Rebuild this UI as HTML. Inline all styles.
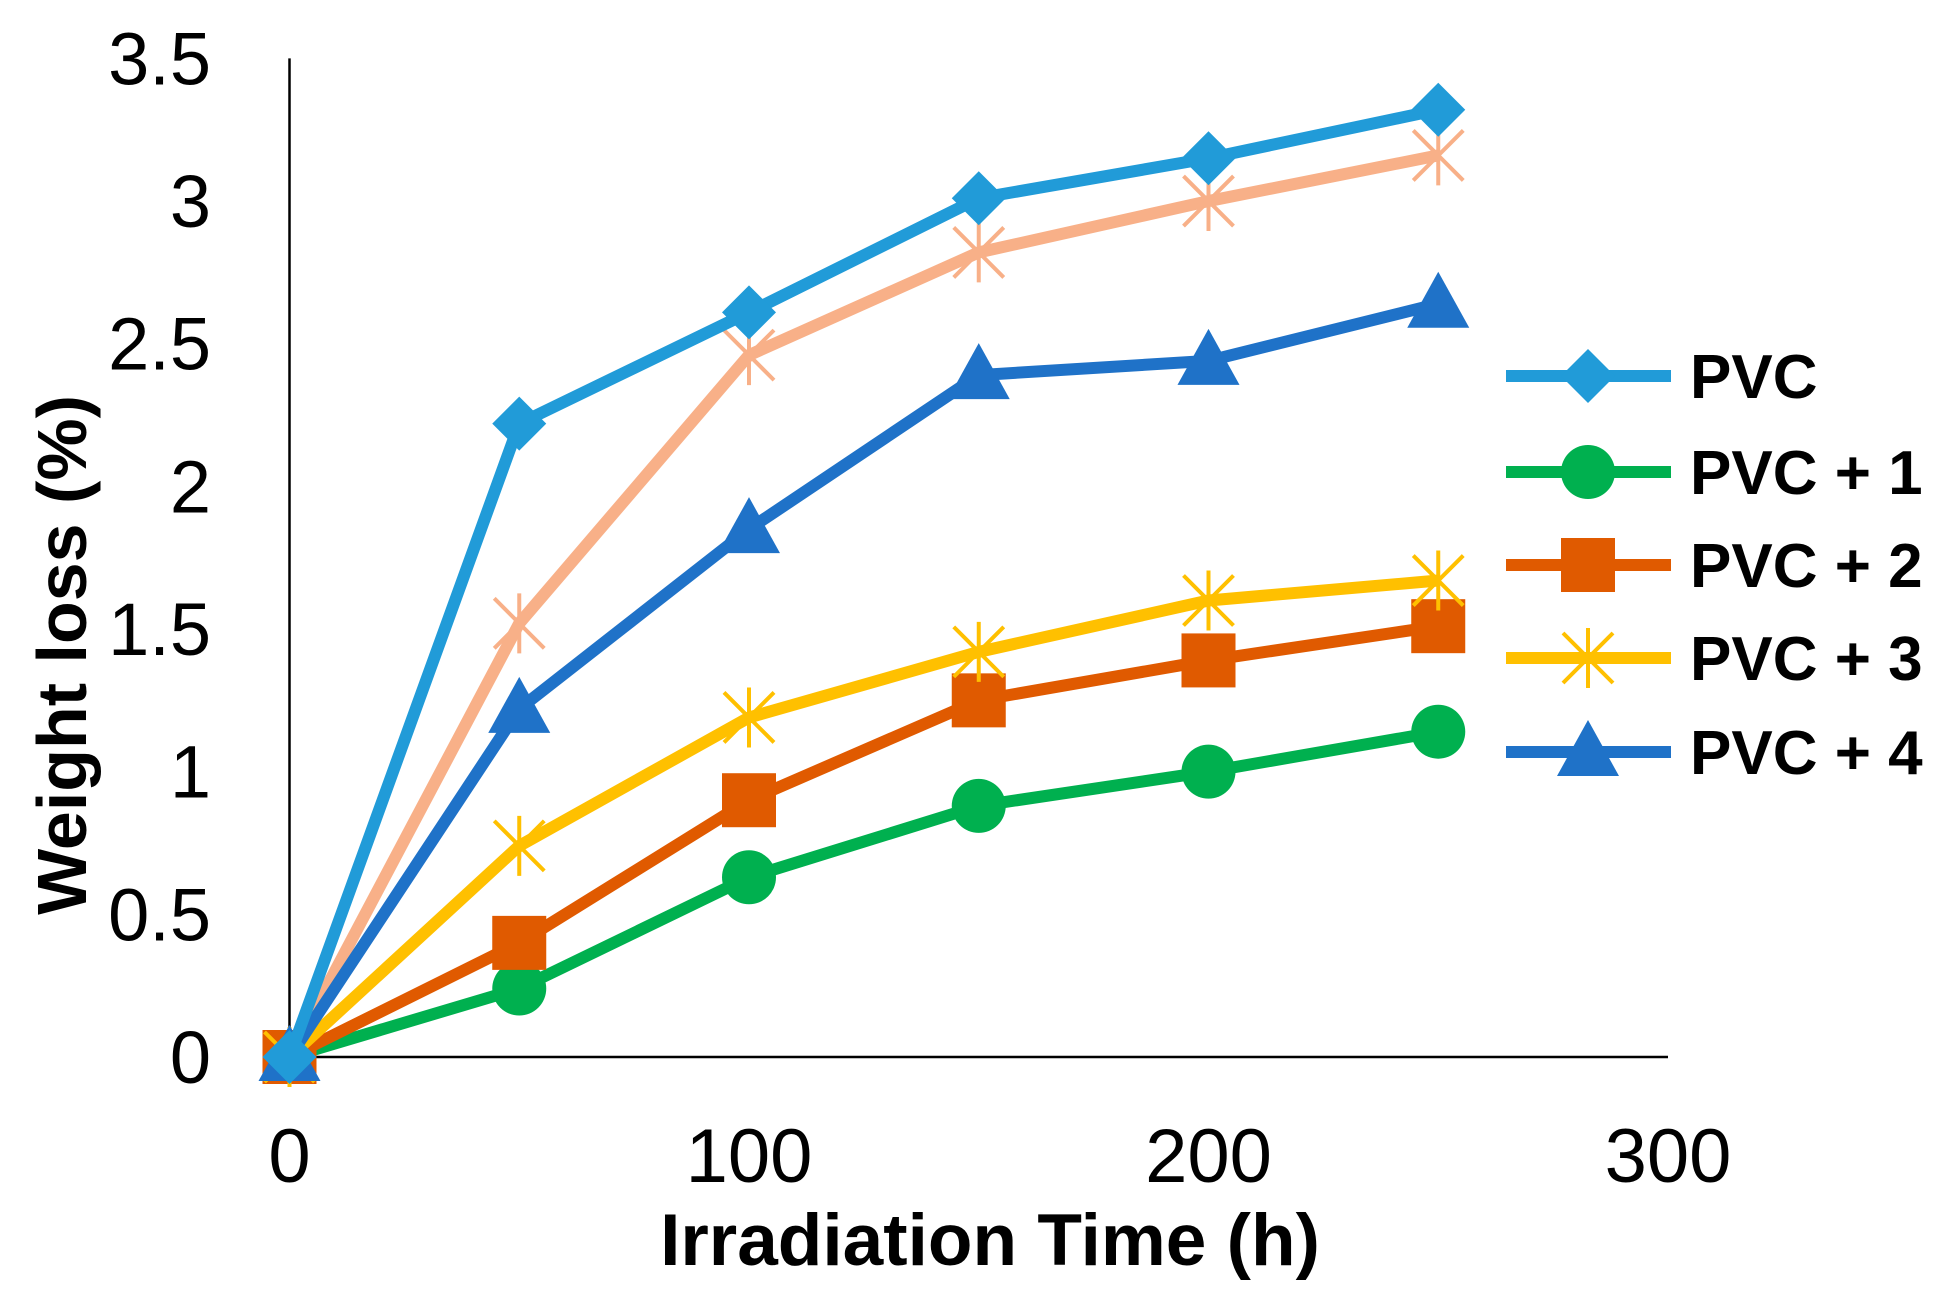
<!DOCTYPE html>
<html><head><meta charset="utf-8"><style>
html,body{margin:0;padding:0;background:#fff;}
svg{display:block;font-family:"Liberation Sans",sans-serif;}
</style></head><body>
<svg id="chart" width="1948" height="1300" viewBox="0 0 1948 1300" xmlns="http://www.w3.org/2000/svg"></svg>
<script>
const xValues = [0, 50, 100, 150, 200, 250];
const seriesNames = ["PVC", "PVC + 1", "PVC + 2", "PVC + 3", "PVC + 4", "unlabeled"];
const pvcValues = [0, 2.22, 2.61, 3.01, 3.15, 3.32];
const pvc1Values = [0, 0.24, 0.63, 0.88, 1.0, 1.14];
const pvc2Values = [0, 0.40, 0.90, 1.25, 1.39, 1.51];
const pvc3Values = [0, 0.74, 1.19, 1.42, 1.60, 1.67];
const pvc4Values = [0, 1.22, 1.85, 2.39, 2.44, 2.64];
const extraValues = [0, 1.52, 2.46, 2.82, 3.00, 3.16];
const yTicks = ["0", "0.5", "1", "1.5", "2", "2.5", "3", "3.5"];
const xTicks = ["0", "100", "200", "300"];

const NS = "http://www.w3.org/2000/svg";
const svg = document.getElementById("chart");
const X0 = 289.5, X1 = 1668, Y0 = 1057, Y1 = 58.4;
const xs = v => X0 + (v / 300) * (X1 - X0);
const ys = v => Y0 - (v / 3.5) * (Y0 - Y1);
function mk(tag, attrs, parent) {
  const e = document.createElementNS(NS, tag);
  for (const k in attrs) e.setAttribute(k, attrs[k]);
  (parent || svg).appendChild(e);
  return e;
}
let a = mk("line", {x1: X0, y1: Y1, x2: X0, y2: Y0, stroke: "#000", "stroke-width": 2.5});


a = mk("line", {x1: X0, y1: Y0, x2: X1, y2: Y0, stroke: "#000", "stroke-width": 2.5});


yTicks.forEach((t) => {
  const el = mk("text", {x: 211, y: ys(parseFloat(t)) + 26, "text-anchor": "end", "font-size": 74, fill: "#000"});
  el.textContent = t;
  
  
});
xTicks.forEach((t) => {
  const el = mk("text", {x: xs(parseFloat(t)), y: 1182, "text-anchor": "middle", "font-size": 76, fill: "#000"});
  el.textContent = t;
  
  
});
let t = mk("text", {x: 990, y: 1265, "text-anchor": "middle", "font-size": 73, "font-weight": "bold", fill: "#000"});
t.textContent = "Irradiation Time (h)";


t = mk("text", {x: 0, y: 0, "text-anchor": "middle", "font-size": 70, "font-weight": "bold", fill: "#000", transform: "translate(86,655) rotate(-90)"});
t.textContent = "Weight loss (%)";



function marker(g, type, cx, cy, color) {
  let m;
  if (type === "diamond") m = mk("polygon", {points: `${cx},${cy-27} ${cx+27},${cy} ${cx},${cy+27} ${cx-27},${cy}`, fill: color}, g);
  else if (type === "circle") m = mk("circle", {cx, cy, r: 27, fill: color}, g);
  else if (type === "square") m = mk("rect", {x: cx-27, y: cy-27, width: 54, height: 54, fill: color}, g);
  else if (type === "triangle") m = mk("polygon", {points: `${cx},${cy-32} ${cx+31},${cy+24} ${cx-31},${cy+24}`, fill: color}, g);
  else {
    m = mk("path", {d: `M${cx-25},${cy-25}L${cx+25},${cy+25}M${cx-25},${cy+25}L${cx+25},${cy-25}M${cx},${cy-30}L${cx},${cy+30}`, stroke: color, "stroke-width": 4, fill: "none"}, g);
  }
  
  
}
const series = [
  {vals: extraValues, color: "#f8b088", m: "star", legend: false, name: "series-unlabeled"},
  {vals: pvc1Values, color: "#00b04f", m: "circle", legend: true, idx: 1, name: "series-pvc-1"},
  {vals: pvc2Values, color: "#e05a00", m: "square", legend: true, idx: 2, name: "series-pvc-2"},
  {vals: pvc3Values, color: "#ffc000", m: "star", legend: true, idx: 3, name: "series-pvc-3"},
  {vals: pvc4Values, color: "#1f72c8", m: "triangle", legend: true, idx: 4, name: "series-pvc-4"},
  {vals: pvcValues, color: "#219bd8", m: "diamond", legend: true, idx: 0, name: "series-pvc"},
];
series.forEach(s => {
  const g = mk("g", {});
  
  
  const pts = s.vals.map((v, i) => `${xs(xValues[i])},${ys(v)}`).join(" ");
  mk("polyline", {points: pts, fill: "none", stroke: s.color, "stroke-width": 12, "stroke-linejoin": "round"}, g);
  s.vals.forEach((v, i) => marker(g, s.m, xs(xValues[i]), ys(v), s.color));
});
const legendRows = [376, 472, 565, 658, 752];
series.filter(s => s.legend).sort((p, q) => p.idx - q.idx).forEach(s => {
  const y = legendRows[s.idx];
  const g = mk("g", {});
  
  
  mk("line", {x1: 1506, y1: y, x2: 1671, y2: y, stroke: s.color, "stroke-width": 12}, g);
  marker(g, s.m, 1588, y, s.color);
  const tx = mk("text", {x: 1690, y: y + 22, "font-size": 62, "font-weight": "bold", fill: "#000"}, g);
  tx.textContent = seriesNames[s.idx];
  
  
});
</script>
</body></html>
